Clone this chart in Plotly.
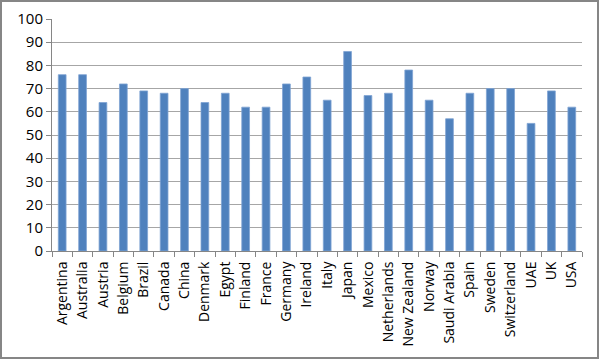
import plotly.graph_objects as go

countries = ["Argentina", "Australia", "Austria", "Belgium", "Brazil", "Canada", "China",
             "Denmark", "Egypt", "Finland", "France", "Germany", "Ireland", "Italy", "Japan",
             "Mexico", "Netherlands", "New Zealand", "Norway", "Saudi Arabia", "Spain",
             "Sweden", "Switzerland", "UAE", "UK", "USA"]
values = [76, 76, 64, 72, 69, 68, 70, 64, 68, 62, 62, 72, 75, 65, 86, 67, 68, 78, 65, 57,
          68, 70, 70, 55, 69, 62]
y_ticks = list(range(0, 101, 10))

W, H = 600, 361
ml, mr, mt, mb = 52, 18, 19, 110
pw, ph = W - ml - mr, H - mt - mb

fig = go.Figure(go.Bar(
    x=countries, y=values,
    marker=dict(color="#4F81BD", line=dict(color="#7FA3D3", width=0.8)),
))
fig.update_layout(
    width=W, height=H,
    margin=dict(l=ml, r=mr, t=mt, b=mb, autoexpand=False),
    paper_bgcolor="white", plot_bgcolor="white",
    bargap=0.62,
    showlegend=False,
    font=dict(family="Open Sans, Liberation Sans, sans-serif", color="#000000"),
    xaxis=dict(
        type="category", tickangle=-90, tickson="boundaries", automargin=False,
        ticks="outside", ticklen=5, tickcolor="#868686", ticklabelstandoff=4,
        showline=True, linecolor="#868686", linewidth=1,
        showgrid=False, tickfont=dict(size=14),
    ),
    yaxis=dict(
        range=[0, 100], tickvals=y_ticks, ticks="outside", ticklen=5, automargin=False,
        tickcolor="#868686", showline=True, linecolor="#868686", linewidth=1,
        showgrid=True, gridcolor="#A6A6A6", gridwidth=1, zeroline=False,
        tickfont=dict(size=15),
    ),
    shapes=[dict(
        type="rect", xref="paper", yref="paper",
        x0=(1 - ml) / pw, x1=(W - 2 - ml) / pw,
        y0=-(H - 3 - mt - ph) / ph, y1=1 + (mt - 1) / ph,
        line=dict(color="#868686", width=2), fillcolor="rgba(0,0,0,0)",
    )],
)
fig.write_html("out.html", config={"displayModeBar": False},
               post_script="document.body.style.margin='0';")
